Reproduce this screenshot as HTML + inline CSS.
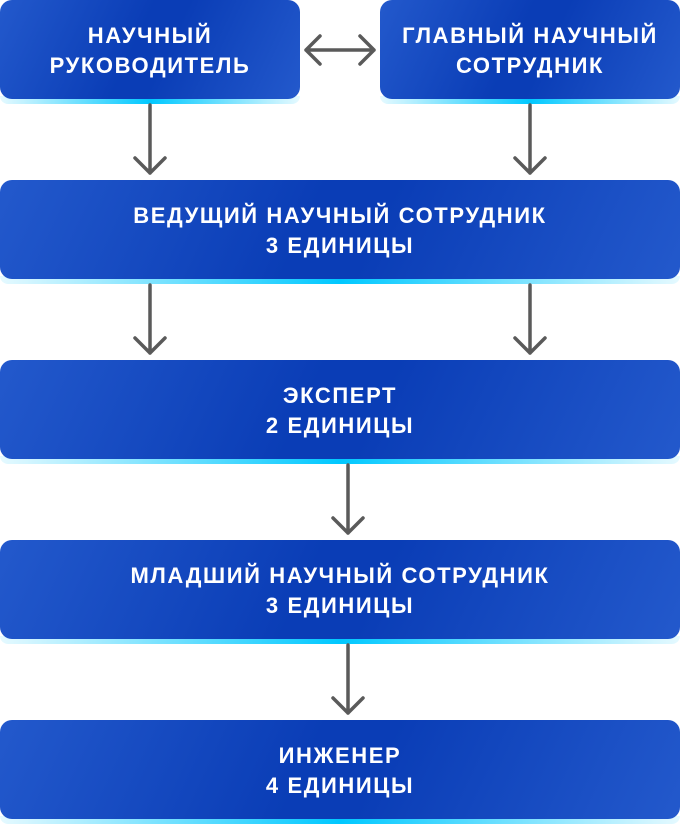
<!DOCTYPE html><html><head><meta charset="utf-8"><style>
body{margin:0;width:680px;height:825px;background:#fff;position:relative;overflow:hidden;font-family:"Liberation Sans",sans-serif}
.g{position:absolute;height:8px;border-radius:0 0 12px 12px;background:linear-gradient(90deg,rgba(0,200,255,0.1),#00c8ff 50%,rgba(0,200,255,0.1))}
.b{position:absolute;height:99px;box-sizing:border-box;padding-top:3px;border-radius:12px;background:linear-gradient(115deg,#2359cc 0%,#0a3db6 45%,#0a3db6 55%,#2359cc 100%);color:#fff;font-weight:bold;font-size:22px;line-height:30px;text-align:center;display:flex;align-items:center;justify-content:center;letter-spacing:1.6px}
svg{position:absolute;left:0;top:0}
</style></head><body>
<div class="g" style="left:0;width:300px;top:96px"></div>
<div class="g" style="left:380px;width:300px;top:96px"></div>
<div class="g" style="left:0;width:680px;top:276px"></div>
<div class="g" style="left:0;width:680px;top:456px"></div>
<div class="g" style="left:0;width:680px;top:636px"></div>
<div class="g" style="left:0;width:680px;top:816px"></div>
<div class="b" style="left:0;width:300px;top:0">НАУЧНЫЙ<br>РУКОВОДИТЕЛЬ</div>
<div class="b" style="left:380px;width:300px;top:0">ГЛАВНЫЙ НАУЧНЫЙ<br>СОТРУДНИК</div>
<div class="b" style="left:0;width:680px;top:180px">ВЕДУЩИЙ НАУЧНЫЙ СОТРУДНИК<br>3 ЕДИНИЦЫ</div>
<div class="b" style="left:0;width:680px;top:360px">ЭКСПЕРТ<br>2 ЕДИНИЦЫ</div>
<div class="b" style="left:0;width:680px;top:540px">МЛАДШИЙ НАУЧНЫЙ СОТРУДНИК<br>3 ЕДИНИЦЫ</div>
<div class="b" style="left:0;width:680px;top:720px">ИНЖЕНЕР<br>4 ЕДИНИЦЫ</div>
<svg width="680" height="825" fill="none" stroke="#5a5a5a" stroke-width="3.5" stroke-linecap="round" stroke-linejoin="round">
<path d="M306 50H374M320 36L306 50L320 64M360 36L374 50L360 64"/>
<path d="M150 105V173M135 158L150 173L165 158"/>
<path d="M530 105V173M515 158L530 173L545 158"/>
<path d="M150 285V353M135 338L150 353L165 338"/>
<path d="M530 285V353M515 338L530 353L545 338"/>
<path d="M348 465V533M333 518L348 533L363 518"/>
<path d="M348 645V713M333 698L348 713L363 698"/>
</svg>
</body></html>
